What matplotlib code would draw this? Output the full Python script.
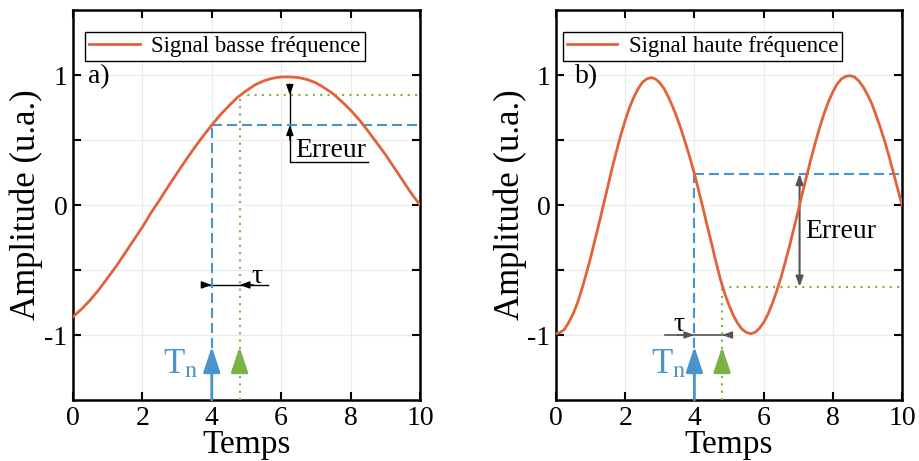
import numpy as np
import matplotlib
matplotlib.use("Agg")
import matplotlib.pyplot as plt

plt.rcParams["font.family"] = ["Liberation Serif", "DejaVu Serif"]
plt.rcParams["mathtext.fontset"] = "stix"
plt.rcParams["axes.unicode_minus"] = False

# signal basse fréquence (lu sur la figure, pas de 0.25)
temps_bf = np.linspace(0, 10, 41)
amp_bf = [-0.86, -0.80, -0.73, -0.65, -0.56, -0.47, -0.37, -0.27, -0.17, -0.06,
          0.04, 0.145, 0.245, 0.345, 0.44, 0.53, 0.615, 0.695, 0.765, 0.83,
          0.88, 0.925, 0.955, 0.975, 0.985, 0.985, 0.98, 0.965, 0.94, 0.90,
          0.855, 0.795, 0.73, 0.655, 0.57, 0.48, 0.39, 0.29, 0.19, 0.09, 0.0]

# signal haute fréquence (lu sur la figure, pas de 0.125)
temps_hf = np.linspace(0, 10, 81)
amp_hf = [-0.99, -0.98, -0.955, -0.90, -0.835, -0.75, -0.645, -0.53,
          -0.405, -0.27, -0.135, 0.005, 0.145, 0.285, 0.415, 0.54,
          0.65, 0.75, 0.83, 0.895, 0.945, 0.97, 0.98, 0.97,
          0.94, 0.895, 0.83, 0.755, 0.67, 0.575, 0.47, 0.36,
          0.24, 0.11, -0.025, -0.165, -0.30, -0.44, -0.57, -0.68,
          -0.77, -0.85, -0.91, -0.955, -0.98, -0.99, -0.98, -0.95,
          -0.905, -0.84, -0.76, -0.665, -0.56, -0.44, -0.315, -0.18,
          -0.045, 0.095, 0.23, 0.36, 0.485, 0.60, 0.705, 0.795,
          0.87, 0.93, 0.97, 0.99, 0.995, 0.985, 0.955, 0.91,
          0.85, 0.78, 0.69, 0.595, 0.49, 0.375, 0.25, 0.125, 0.0]

T_N = 4.0      # instant d'échantillonnage
T_TAU = 4.8    # instant retardé
niv_bf = [0.615, 0.846]    # amplitude à T_N et T_TAU
niv_hf = [0.24, -0.63]

ORANGE = "#E2623A"
BLEU = "#4A94CE"
VERT = "#79B245"


def panneau(ax, temps, amp, label, tag, tag_pos, niv, tn_x, leg_x):
    ax.plot(temps, amp, color=ORANGE, lw=2, label=label, zorder=4)
    ax.set_xlim(0, 10)
    ax.set_ylim(-1.5, 1.5)
    ax.set_xticks([0, 2, 4, 6, 8, 10])
    ax.set_yticks([-1, -0.5, 0, 0.5, 1])
    ax.set_yticklabels(["-1", "", "0", "", "1"])
    ax.tick_params(direction="in", top=True, right=True, length=6, width=1.5,
                   labelsize=20, pad=4)
    ax.grid(color="#ebebeb", lw=0.8)
    ax.set_axisbelow(True)
    for s in ax.spines.values():
        s.set_linewidth(1.8)

    # lignes de repère
    ax.plot([T_N, T_N], [-1.1, niv[0]], color=BLEU, lw=1.5, ls=(0, (4.8, 2.4)), zorder=3)
    ax.plot([T_N, 10], [niv[0], niv[0]], color=BLEU, lw=1.5, ls=(0, (4.8, 2.4)), zorder=3)
    ax.plot([T_TAU, T_TAU], [-1.5, niv[1]], color=VERT, lw=1.5, ls=(0, (1, 2.5)), zorder=3)
    ax.plot([T_TAU, 10], [niv[1], niv[1]], color=VERT, lw=1.5, ls=(0, (1, 2.5)), zorder=3)

    # flèches d'échantillonnage
    style = "-|>,head_length=0.6,head_width=0.2"
    ax.annotate("", xy=(T_N, -1.09), xytext=(T_N, -1.5),
                arrowprops=dict(arrowstyle=style, color=BLEU, lw=2, mutation_scale=26,
                                shrinkA=0, shrinkB=0), annotation_clip=False)
    ax.annotate("", xy=(T_TAU, -1.09), xytext=(T_TAU, -1.25),
                arrowprops=dict(arrowstyle=style, color=VERT, lw=2, mutation_scale=26,
                                shrinkA=0, shrinkB=0))
    ax.text(tn_x, -1.29, r"T$_{\rm n}$", color=BLEU, fontsize=25, ha="right", va="baseline")

    ax.text(tag_pos[0], tag_pos[1], tag, fontsize=20, va="center")

    leg = ax.legend(loc="upper left", bbox_to_anchor=(leg_x, 0.944), borderaxespad=0,
                    fancybox=False, edgecolor="k", framealpha=1, fontsize=16.5,
                    handlelength=2.2, borderpad=0.18, handletextpad=0.5)
    leg.get_frame().set_linewidth(1)

    ax.set_xlabel("Temps", fontsize=24)
    ax.set_ylabel("Amplitude (u.a.)", fontsize=25)
    ax.xaxis.set_label_coords(0.5, -0.075)
    ax.yaxis.set_label_coords(-0.085, 0.5)


def petite_fleche(ax, depart, arrivee, couleur, ms=12):
    ax.annotate("", xy=arrivee, xytext=depart,
                arrowprops=dict(arrowstyle="-|>,head_length=0.5,head_width=0.18",
                                color=couleur, lw=1, mutation_scale=ms,
                                shrinkA=0, shrinkB=0))


fig = plt.figure(figsize=(9.19, 4.61), dpi=100)
ax1 = fig.add_axes([0.0794, 0.1323, 0.3776, 0.846])
ax2 = fig.add_axes([0.605, 0.1323, 0.3765, 0.846])

panneau(ax1, temps_bf, amp_bf, "Signal basse fréquence", "a)", (0.43, 0.985),
        niv_bf, 3.62, 0.035)
panneau(ax2, temps_hf, amp_hf, "Signal haute fréquence", "b)", (0.55, 0.99),
        niv_hf, 3.79, 0.02)

# a) : tau et erreur
y_tau = -0.615
ax1.plot([3.75, 5.62], [y_tau, y_tau], color="k", lw=1)
petite_fleche(ax1, (3.75, y_tau), (T_N, y_tau), "k")
petite_fleche(ax1, (5.2, y_tau), (T_TAU, y_tau), "k")
ax1.text(5.3, -0.55, "τ", fontsize=20, ha="center", va="center")

ax1.plot([6.25, 6.25, 8.5], [0.92, 0.333, 0.333], color="k", lw=1)
petite_fleche(ax1, (6.25, 0.93), (6.25, niv_bf[1]), "k")
petite_fleche(ax1, (6.25, 0.5), (6.25, niv_bf[0]), "k")
ax1.text(6.4, 0.37, "Erreur", fontsize=20, va="baseline")

# b) : tau et erreur
gris = "#555555"
ax2.plot([3.15, 4.97], [-1.0, -1.0], color=gris, lw=1.2)
petite_fleche(ax2, (3.5, -1.0), (T_N, -1.0), gris)
petite_fleche(ax2, (4.97, -1.0), (T_TAU, -1.0), gris)
ax2.text(3.55, -0.92, "τ", fontsize=20, ha="center", va="center")

ax2.annotate("", xy=(7.04, niv_hf[1]), xytext=(7.04, niv_hf[0]),
             arrowprops=dict(arrowstyle="<|-|>,head_length=0.5,head_width=0.18",
                             color=gris, lw=1.5, mutation_scale=12,
                             shrinkA=0, shrinkB=0))
ax2.text(7.2, -0.2, "Erreur", fontsize=20, va="center")

fig.savefig("out.png", dpi=100)
